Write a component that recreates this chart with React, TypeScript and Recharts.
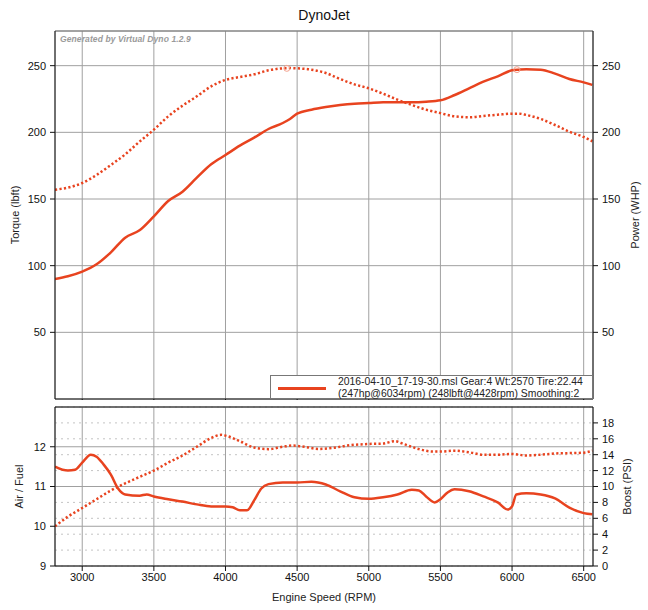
import React from 'react';
import { LineChart, Line, XAxis, YAxis, CartesianGrid, Legend, ReferenceDot, Label } from 'recharts';

const RED = '#e8431f';
const FONT = '"Liberation Sans", Arial, Helvetica, sans-serif';

// ---------- data ----------
const topRpm = [2810, 2900, 3000, 3100, 3200, 3300, 3400, 3500, 3600, 3700, 3800, 3900, 4000, 4100, 4200, 4300, 4400, 4450, 4500, 4600, 4700, 4800, 4900, 5000, 5100, 5200, 5300, 5400, 5500, 5600, 5700, 5800, 5900, 6000, 6050, 6100, 6200, 6300, 6400, 6500, 6560];
const powerHp = [90, 92, 95.5, 101, 110, 121, 126.5, 137, 148.5, 155.5, 166, 176, 183, 190, 196, 202.5, 207, 210, 214, 217, 219, 220.5, 221.5, 222, 222.5, 222.6, 222.6, 223, 224, 228, 233, 238, 242, 246.5, 247, 247.3, 247, 244, 240, 237.5, 235.6];
const torqueLbft = [157, 158.5, 162, 168, 175.5, 183.5, 193, 202, 212, 220, 227, 234.5, 239.3, 241.5, 243.5, 246.5, 248, 248.2, 248, 247, 244.5, 240, 236, 233, 229, 224.5, 220.5, 217, 214.4, 212, 211.3, 212.3, 213.2, 214, 214, 213, 210, 205.5, 200.5, 196.5, 193.3];

const afrRpm = [2810, 2900, 2950, 3000, 3060, 3100, 3150, 3200, 3250, 3300, 3400, 3450, 3500, 3600, 3700, 3800, 3900, 4000, 4050, 4100, 4150, 4200, 4250, 4300, 4400, 4500, 4600, 4700, 4800, 4900, 5000, 5100, 5200, 5300, 5350, 5400, 5460, 5500, 5550, 5600, 5700, 5800, 5900, 5970, 6000, 6030, 6100, 6200, 6300, 6400, 6500, 6560];
const afrValues = [11.5, 11.4, 11.42, 11.6, 11.8, 11.75, 11.55, 11.3, 10.95, 10.8, 10.77, 10.8, 10.75, 10.68, 10.62, 10.55, 10.5, 10.5, 10.48, 10.4, 10.4, 10.65, 10.95, 11.06, 11.1, 11.1, 11.12, 11.05, 10.88, 10.73, 10.69, 10.73, 10.8, 10.92, 10.9, 10.75, 10.6, 10.68, 10.85, 10.93, 10.88, 10.75, 10.6, 10.42, 10.5, 10.8, 10.83, 10.8, 10.7, 10.47, 10.33, 10.3];

const boostRpm = [2810, 2900, 3000, 3100, 3200, 3300, 3400, 3500, 3600, 3700, 3800, 3900, 3970, 4000, 4100, 4200, 4300, 4400, 4470, 4550, 4650, 4750, 4850, 5000, 5100, 5180, 5250, 5350, 5450, 5500, 5600, 5700, 5800, 5900, 6000, 6100, 6200, 6300, 6400, 6500, 6560];
const boostPsi = [5.0, 6.2, 7.3, 8.4, 9.5, 10.4, 11.2, 12.0, 13.0, 13.9, 15.0, 16.1, 16.5, 16.4, 15.7, 14.9, 14.7, 15.0, 15.15, 15.0, 14.73, 14.85, 15.15, 15.35, 15.4, 15.7, 15.3, 14.7, 14.4, 14.4, 14.5, 14.3, 14.0, 14.0, 14.1, 13.9, 14.0, 14.15, 14.2, 14.25, 14.5];

const rpmTicks = [3000, 3500, 4000, 4500, 5000, 5500, 6000, 6500];
const rpmMinorTicks = [2900, 3000, 3100, 3200, 3300, 3400, 3500, 3600, 3700, 3800, 3900, 4000, 4100, 4200, 4300, 4400, 4500, 4600, 4700, 4800, 4900, 5000, 5100, 5200, 5300, 5400, 5500, 5600, 5700, 5800, 5900, 6000, 6100, 6200, 6300, 6400, 6500];
const torqueTicks = [50, 100, 150, 200, 250];
const torqueMinorTicks = [10, 20, 30, 40, 50, 60, 70, 80, 90, 100, 110, 120, 130, 140, 150, 160, 170, 180, 190, 200, 210, 220, 230, 240, 250, 260, 270];
const afrTicks = [9, 10, 11, 12];
const afrMinorTicks = [9.4, 9.8, 10.2, 10.6, 11.0, 11.4, 11.8, 12.2, 12.6];
const boostTicks = [0, 2, 4, 6, 8, 10, 12, 14, 16, 18];

const legendLine1 = '2016-04-10_17-19-30.msl Gear:4 Wt:2570 Tire:22.44';
const legendLine2 = '(247hp@6034rpm) (248lbft@4428rpm) Smoothing:2';
const watermark = 'Generated by Virtual Dyno 1.2.9';
const torquePeak = { rpm: 4428, value: 248 };
const powerPeak = { rpm: 6034, value: 247 };

const torqueData = topRpm.map((rpm, i) => ({ rpm, v: torqueLbft[i] }));
const powerData = topRpm.map((rpm, i) => ({ rpm, v: powerHp[i] }));
const afrData = afrRpm.map((rpm, i) => ({ rpm, v: afrValues[i] }));
const boostData = boostRpm.map((rpm, i) => ({ rpm, v: boostPsi[i] }));

const X_DOMAIN: [number, number] = [2810, 6565];
const blank = () => '';
const tickStyle = { fill: '#111', fontSize: 11, fontFamily: FONT };

const LegendBox = () => (
  <div style={{ width: 323, height: 24, boxSizing: 'border-box', border: '1px solid #777', background: '#fff', position: 'relative', fontFamily: FONT, fontSize: 10.4, color: '#222' }}>
    <div style={{ position: 'absolute', left: 7, top: 11, width: 48, height: 2.5, background: RED }} />
    <div style={{ position: 'absolute', left: 67, top: 0, lineHeight: '11.5px', whiteSpace: 'nowrap' }}>
      <div>{legendLine1}</div>
      <div>{legendLine2}</div>
    </div>
  </div>
);

const titleStyle = { fontSize: 11, fontFamily: FONT, fill: '#222', textAnchor: 'middle' as const };

export default function App() {
  return (
    <div style={{ position: 'absolute', left: 0, top: 0, width: 648, height: 610, background: '#fff', fontFamily: FONT }}>
      <LineChart width={648} height={400} margin={{ top: 31, right: 0, bottom: 0, left: 0 }}>
        <CartesianGrid xAxisId="x" yAxisId="t" stroke="#a0a0a0" strokeWidth={1} />
        <XAxis xAxisId="x" type="number" dataKey="rpm" domain={X_DOMAIN} allowDataOverflow ticks={rpmTicks} interval={0} height={1} tickFormatter={blank} tickSize={5} stroke="#111" />
        <XAxis xAxisId="xm" type="number" domain={X_DOMAIN} allowDataOverflow ticks={rpmMinorTicks} interval={0} height={1} mirror tickFormatter={blank} tickSize={3} axisLine={false} stroke="#111" />
        <XAxis xAxisId="xt" orientation="top" type="number" domain={X_DOMAIN} allowDataOverflow ticks={rpmMinorTicks} interval={0} height={1} mirror tickFormatter={blank} tickSize={3} stroke="#777">
          <Label value="DynoJet" position="top" offset={11} style={{ fontSize: 14, fontFamily: FONT, fill: '#111' }} />
        </XAxis>
        <YAxis yAxisId="t" type="number" domain={[0, 276]} ticks={torqueTicks} interval={0} width={55} tickSize={5} tickMargin={4} stroke="#111" tick={tickStyle}>
          <Label value="Torque (lbft)" angle={-90} position="insideLeft" offset={15} style={titleStyle} />
        </YAxis>
        <YAxis yAxisId="tm" type="number" domain={[0, 276]} ticks={torqueMinorTicks} interval={0} width={1} mirror tickSize={3} tickFormatter={blank} stroke="#111" axisLine={false}>
          <Label value={watermark} position="insideTopLeft" offset={5} style={{ fontSize: 8.5, fontStyle: 'italic', fontWeight: 'bold', fontFamily: FONT, fill: '#9a9a9a', letterSpacing: 0.1 }} />
        </YAxis>
        <YAxis yAxisId="p" orientation="right" type="number" domain={[0, 276]} ticks={torqueTicks} interval={0} width={55} tickSize={5} tickMargin={4} stroke="#111" tick={tickStyle}>
          <Label value="Power (WHP)" angle={-90} position="insideRight" offset={13} style={titleStyle} />
        </YAxis>
        <YAxis yAxisId="pm" orientation="right" type="number" domain={[0, 276]} ticks={torqueMinorTicks} interval={0} width={1} mirror tickSize={3} tickFormatter={blank} stroke="#111" axisLine={false} />
        <Line xAxisId="x" yAxisId="t" data={torqueData} dataKey="v" type="monotone" stroke={RED} strokeWidth={2.5} strokeDasharray="2.2 2.3" dot={false} isAnimationActive={false} />
        <Line xAxisId="x" yAxisId="p" data={powerData} dataKey="v" type="monotone" stroke={RED} strokeWidth={2.5} dot={false} isAnimationActive={false} />
        <ReferenceDot xAxisId="x" yAxisId="t" x={torquePeak.rpm} y={torquePeak.value} r={3} fill="none" stroke="#f4a38f" strokeWidth={1} />
        <ReferenceDot xAxisId="x" yAxisId="p" x={powerPeak.rpm} y={powerPeak.value} r={3} fill="none" stroke="#f4a38f" strokeWidth={1} />
        <Legend layout="horizontal" verticalAlign="middle" align="center" content={() => <LegendBox />} wrapperStyle={{ position: 'absolute', left: 270, top: 375, width: 323, height: 24, right: 'auto', bottom: 'auto', margin: 0 }} />
      </LineChart>
      <LineChart width={648} height={210} margin={{ top: 7, right: 0, bottom: 0, left: 0 }}>
        <CartesianGrid xAxisId="x" yAxisId="boost" vertical={false} stroke="#c4c4c4" strokeDasharray="2 4" />
        <CartesianGrid xAxisId="x" yAxisId="afr" stroke="#a0a0a0" strokeWidth={1} />
        <XAxis xAxisId="x" type="number" dataKey="rpm" domain={X_DOMAIN} allowDataOverflow ticks={rpmTicks} interval={0} height={44} tickSize={5} tickMargin={2} stroke="#111" tick={tickStyle}>
          <Label value="Engine Speed (RPM)" position="insideBottom" offset={9} style={{ fontSize: 11, fontFamily: FONT, fill: '#222' }} />
        </XAxis>
        <XAxis xAxisId="xm" type="number" domain={X_DOMAIN} allowDataOverflow ticks={rpmMinorTicks} interval={0} height={1} mirror tickFormatter={blank} tickSize={3} axisLine={false} stroke="#111" />
        <XAxis xAxisId="xt" orientation="top" type="number" domain={X_DOMAIN} allowDataOverflow ticks={rpmMinorTicks} interval={0} height={1} mirror tickFormatter={blank} tickSize={3} stroke="#111" />
        <YAxis yAxisId="afr" type="number" domain={[9, 13]} ticks={afrTicks} interval={0} width={55} tickSize={5} tickMargin={4} stroke="#111" tick={tickStyle}>
          <Label value="Air / Fuel" angle={-90} position="insideLeft" offset={19} style={titleStyle} />
        </YAxis>
        <YAxis yAxisId="afrm" type="number" domain={[9, 13]} ticks={afrMinorTicks} interval={0} width={1} mirror tickSize={3} tickFormatter={blank} axisLine={false} stroke="#111" />
        <YAxis yAxisId="boost" orientation="right" type="number" domain={[0, 20]} ticks={boostTicks} interval={0} width={55} tickSize={5} tickMargin={4} stroke="#111" tick={tickStyle}>
          <Label value="Boost (PSI)" angle={-90} position="insideRight" offset={21} style={titleStyle} />
        </YAxis>
        <Line xAxisId="x" yAxisId="boost" data={boostData} dataKey="v" type="monotone" stroke={RED} strokeWidth={2.5} strokeDasharray="2.2 2.3" dot={false} isAnimationActive={false} />
        <Line xAxisId="x" yAxisId="afr" data={afrData} dataKey="v" type="monotone" stroke={RED} strokeWidth={2.5} dot={false} isAnimationActive={false} />
      </LineChart>
    </div>
  );
}
